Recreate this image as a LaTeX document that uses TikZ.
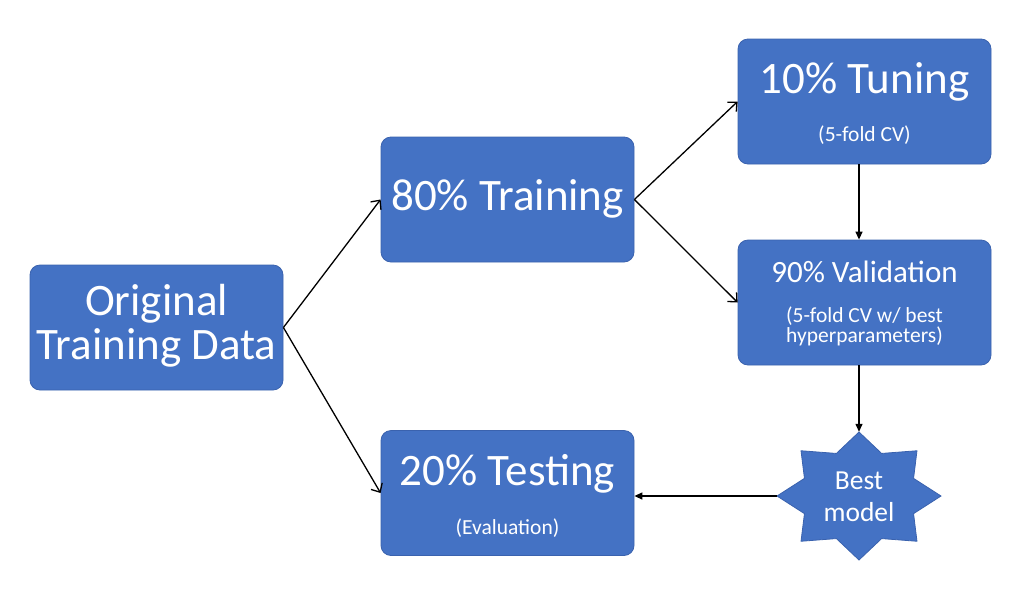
\documentclass[tikz,border=0pt]{standalone}
\usepackage{fontspec}
\setmainfont{Carlito}
\usetikzlibrary{arrows.meta}
\definecolor{boxblue}{HTML}{4472C4}
\definecolor{boxline}{HTML}{3A62AE}
\begin{document}
\begin{tikzpicture}[x=1pt,y=-1pt,
  box/.style={draw=boxline, fill=boxblue, line width=0.8pt, rounded corners=10pt,
    minimum width=253pt, minimum height=125pt, inner sep=0pt},
  txt/.style={text=white, inner sep=0pt, anchor=base},
  bigtxt/.style={txt, font=\fontsize{45}{50}\selectfont},
  midtxt/.style={txt, font=\fontsize{31}{34}\selectfont},
  smalltxt/.style={txt, font=\fontsize{21.5}{22}\selectfont},
  startxt/.style={txt, font=\fontsize{27.5}{33}\selectfont},
  openarrow/.style={line width=1.3pt, -{Straight Barb[length=7pt,width=13pt,line width=1.3pt]}},
  filledarrow/.style={line width=1.3pt, -{Triangle[length=8pt,width=7pt]}},
]
\useasboundingbox (0,0) rectangle (1022,595);

% boxes
\node[box] (orig) at (156.5,327.5) {};
\node[box] (train) at (507.5,199.5) {};
\node[box] (test) at (507.5,493) {};
\node[box] (tune) at (864.5,101.5) {};
\node[box] (valid) at (864.5,302.5) {};

% star
\filldraw[fill=boxblue, draw=boxline, line width=0.8pt]
  (941,496) \foreach \a/\r in {22.5/0.72,45/1,67.5/0.72,90/1,112.5/0.72,135/1,157.5/0.72,180/1,
     202.5/0.72,225/1,247.5/0.72,270/1,292.5/0.72,315/1,337.5/0.72}
  { -- ({859+82*\r*cos(\a)},{496+64*\r*sin(\a)}) } -- cycle;
\node[inner sep=0pt, minimum width=164pt, minimum height=128pt] (star) at (859,496) {};

% texts (positioned by baseline)
\node[bigtxt] (origA) at (156.5,315) {Original};
\node[bigtxt] (origB) at (156.5,359) {Training Data};
\node[bigtxt] (trainT) at (507.5,210) {80\% Training};
\node[bigtxt] (testT) at (507.5,485) {20\% Testing};
\node[smalltxt] (testS) at (507.5,534) {(Evaluation)};
\node[bigtxt] (tuneT) at (864.5,93) {10\% Tuning};
\node[smalltxt] (tuneS) at (864.5,141) {(5-fold CV)};
\node[midtxt] (validT) at (864.5,282) {90\% Validation};
\node[smalltxt] (validS1) at (864.5,322) {(5-fold CV w/ best};
\node[smalltxt] (validS2) at (864.5,342) {hyperparameters)};
\node[startxt] (starA) at (859,489) {Best};
\node[startxt] (starB) at (859,521) {model};

% connectors
\draw[openarrow] (orig.east) -- (train.west);
\draw[openarrow] (orig.east) -- (test.west);
\draw[openarrow] (train.east) -- (tune.west);
\draw[openarrow] (train.east) -- (valid.west);
\draw[filledarrow] (tune.south -| star.north) -- (valid.north -| star.north);
\draw[filledarrow] (valid.south -| star.north) -- (star.north);
\draw[filledarrow] (star.west) -- (test.east |- star.west);
\end{tikzpicture}
\end{document}
